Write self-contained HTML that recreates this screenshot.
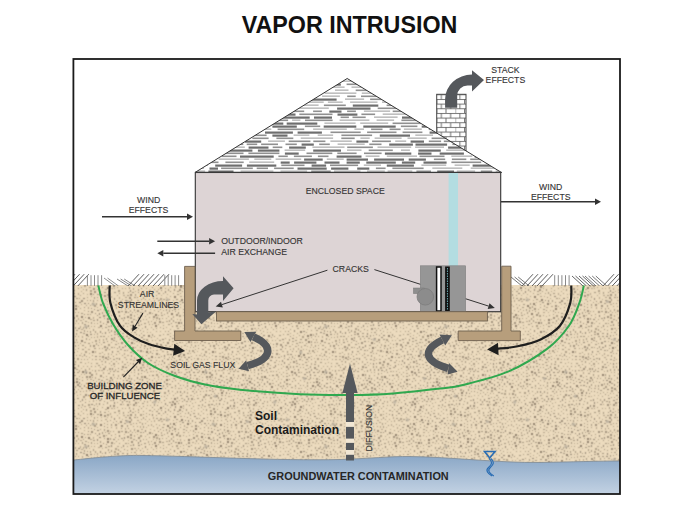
<!DOCTYPE html>
<html><head><meta charset="utf-8"><style>
html,body{margin:0;padding:0;background:#fff;width:700px;height:525px;overflow:hidden}
svg{display:block}

</style></head><body>
<div id="w"><svg width="700" height="525" viewBox="0 0 700 525">
<defs><pattern id="soil" patternUnits="userSpaceOnUse" width="120" height="120"><rect width="120" height="120" fill="#ecdbbe"/><path d="M41 19h1v1h-1zM4 11h1v1h-1zM30 11h2v1h-2zM80 80h2v1h-2zM71 104h1v2h-1zM81 24h1v1h-1zM36 77h2v2h-2zM19 119h2v1h-2zM74 102h2v1h-2zM34 60h1v2h-1zM2 59h1v1h-1zM88 109h2v1h-2zM81 51h1v1h-1zM13 0h2v1h-2zM59 61h2v1h-2zM61 106h1v2h-1zM26 67h1v1h-1zM97 67h1v1h-1zM63 45h1v2h-1zM79 115h2v1h-2zM61 116h1v2h-1zM2 1h1v2h-1zM68 19h2v1h-2zM111 56h1v2h-1zM60 79h1v2h-1zM66 67h2v1h-2zM71 3h1v2h-1zM107 57h1v1h-1zM70 58h1v1h-1zM14 117h1v2h-1zM89 41h1v1h-1zM102 88h1v1h-1zM10 77h2v2h-2zM33 110h1v1h-1zM76 31h1v2h-1zM31 64h1v2h-1zM116 67h1v2h-1zM13 48h1v2h-1zM62 33h1v1h-1zM95 119h2v1h-2zM96 43h1v2h-1zM70 70h1v1h-1zM26 48h1v1h-1zM108 104h2v2h-2zM19 19h2v1h-2zM10 70h1v2h-1zM49 33h1v1h-1zM46 87h1v1h-1zM114 28h2v1h-2zM76 18h2v2h-2zM114 91h2v2h-2zM10 44h1v1h-1zM5 48h1v1h-1zM7 32h1v1h-1zM118 35h1v1h-1zM110 40h2v1h-2zM20 54h2v2h-2zM33 79h1v1h-1zM86 30h1v2h-1zM103 12h1v2h-1zM99 99h1v2h-1zM5 26h2v2h-2zM84 70h1v1h-1zM85 39h1v1h-1zM50 93h1v1h-1zM55 115h1v1h-1zM38 16h1v2h-1zM104 114h1v1h-1zM64 56h1v1h-1zM16 45h1v1h-1zM64 65h1v2h-1zM93 40h1v2h-1zM109 8h2v2h-2zM71 66h2v1h-2zM73 18h1v1h-1zM78 83h1v1h-1zM90 19h2v1h-2zM20 7h2v2h-2zM13 33h1v1h-1zM67 89h1v1h-1zM116 21h1v1h-1zM5 17h1v2h-1zM89 8h1v2h-1zM97 46h1v1h-1zM26 26h1v1h-1zM44 32h2v2h-2zM108 36h2v1h-2zM3 55h2v1h-2zM68 72h1v1h-1zM98 10h2v1h-2zM118 50h2v2h-2zM58 16h2v1h-2zM24 33h2v2h-2zM35 25h1v1h-1zM64 80h1v1h-1zM114 83h1v1h-1zM49 106h2v1h-2zM100 25h2v1h-2zM21 16h2v2h-2zM41 61h2v1h-2zM67 106h1v1h-1zM63 88h1v1h-1zM56 85h2v2h-2zM17 60h2v1h-2zM21 69h2v1h-2zM47 54h1v1h-1zM46 81h2v1h-2zM62 96h2v2h-2zM40 91h1v1h-1zM70 113h1v1h-1zM51 38h1v1h-1zM24 105h2v2h-2zM80 86h1v2h-1zM23 111h1v1h-1zM72 82h2v1h-2zM63 72h2v1h-2zM89 117h1v1h-1zM119 113h1v1h-1zM83 87h1v2h-1zM60 86h1v1h-1zM42 111h2v1h-2zM20 75h2v2h-2zM99 116h2v1h-2zM66 109h1v1h-1zM118 63h1v1h-1zM3 44h1v1h-1zM118 15h1v2h-1zM30 92h1v1h-1zM7 115h2v1h-2zM30 103h1v1h-1zM95 17h1v2h-1zM33 30h2v2h-2zM25 76h1v1h-1zM74 39h1v1h-1zM89 47h2v1h-2zM119 57h2v2h-2zM111 48h2v1h-2zM39 32h2v1h-2zM53 76h1v2h-1zM46 13h2v1h-2zM41 55h1v1h-1zM99 119h2v1h-2zM117 86h2v1h-2zM73 36h1v1h-1zM77 111h1v1h-1zM78 78h1v2h-1zM53 108h1v2h-1zM88 67h1v2h-1zM23 7h2v1h-2zM0 39h1v2h-1zM117 38h1v1h-1zM20 66h1v2h-1zM105 59h2v1h-2zM30 45h1v1h-1zM57 79h1v1h-1zM28 113h1v1h-1zM75 109h1v1h-1zM65 27h1v1h-1zM39 1h1v1h-1zM16 119h1v1h-1zM88 44h2v2h-2zM108 51h1v1h-1zM91 86h1v1h-1zM83 36h2v2h-2zM26 99h2v2h-2zM30 69h1v1h-1zM114 35h1v1h-1zM83 31h1v1h-1zM27 92h1v1h-1zM79 10h1v2h-1zM58 28h2v1h-2zM94 65h2v2h-2zM17 110h2v1h-2zM19 62h2v1h-2zM39 114h1v1h-1zM4 117h2v1h-2zM80 34h1v1h-1zM36 110h2v1h-2zM110 53h1v2h-1zM26 18h2v1h-2zM27 41h1v2h-1zM108 113h1v2h-1zM4 74h1v1h-1zM62 17h2v1h-2zM8 5h1v1h-1zM84 14h1v1h-1zM40 58h2v2h-2zM105 109h2v2h-2zM91 56h1v1h-1zM82 96h1v2h-1zM53 60h1v1h-1zM41 42h1v1h-1zM87 54h1v1h-1zM37 28h1v2h-1zM74 118h1v1h-1zM38 19h1v1h-1zM76 99h1v2h-1zM59 75h2v2h-2zM118 28h1v2h-1zM81 8h1v1h-1zM88 2h1v1h-1zM93 77h1v2h-1zM34 18h1v1h-1zM30 37h1v2h-1zM114 17h1v1h-1zM33 57h1v2h-1zM108 96h1v1h-1zM39 12h1v1h-1zM5 68h1v2h-1zM8 80h1v1h-1zM85 111h2v2h-2zM95 100h2v2h-2zM22 88h1v1h-1zM99 113h2v1h-2zM56 97h1v1h-1zM28 81h1v2h-1zM96 13h1v2h-1zM10 64h2v1h-2zM97 93h1v2h-1zM101 10h2v1h-2zM43 46h1v1h-1zM38 9h1v1h-1zM68 1h1v1h-1zM89 88h1v1h-1zM60 56h2v1h-2zM32 23h2v1h-2zM92 10h1v1h-1zM67 32h1v2h-1zM100 29h2v2h-2zM40 22h1v2h-1zM58 108h1v2h-1zM77 118h2v2h-2zM101 104h1v1h-1zM36 14h2v2h-2zM95 111h1v2h-1zM113 3h2v2h-2zM76 75h2v2h-2zM93 23h2v1h-2zM107 54h2v2h-2zM62 0h1v1h-1zM55 33h1v1h-1zM94 83h1v1h-1zM88 82h1v1h-1zM75 42h1v1h-1zM70 22h1v1h-1zM14 75h1v2h-1zM11 30h2v2h-2zM94 94h1v1h-1zM97 96h1v2h-1zM4 113h1v2h-1zM52 14h1v2h-1zM66 76h1v1h-1zM64 94h1v1h-1zM70 35h2v1h-2zM107 10h1v1h-1zM27 61h1v1h-1zM55 28h1v1h-1zM14 88h2v1h-2zM61 38h2v1h-2zM90 37h2v2h-2zM103 99h1v2h-1zM81 64h1v1h-1zM35 100h1v1h-1zM41 36h1v1h-1zM15 72h1v1h-1zM46 57h1v1h-1zM29 33h1v2h-1zM101 57h1v1h-1zM53 95h1v1h-1zM11 12h1v1h-1zM98 87h2v1h-2zM5 57h2v1h-2zM15 51h1v1h-1zM78 53h1v2h-1zM83 6h1v1h-1zM33 107h1v1h-1zM109 20h2v2h-2zM115 9h1v2h-1zM22 4h2v2h-2zM101 1h2v1h-2zM62 4h2v1h-2zM117 55h1v1h-1zM115 88h2v2h-2zM21 22h1v1h-1zM56 62h1v1h-1zM104 21h1v2h-1zM111 36h1v1h-1zM31 61h1v1h-1zM73 94h1v2h-1zM8 101h1v1h-1zM81 14h1v1h-1zM81 113h1v1h-1zM37 98h1v1h-1zM105 49h2v1h-2zM84 46h2v1h-2zM9 25h1v1h-1zM93 36h1v1h-1zM17 74h1v1h-1zM115 25h1v2h-1zM90 50h2v2h-2zM96 40h1v1h-1zM43 6h1v1h-1zM48 4h2v1h-2zM21 104h1v2h-1zM77 35h1v1h-1zM75 83h1v1h-1zM17 105h1v1h-1zM16 39h2v1h-2zM10 85h2v1h-2zM59 40h1v1h-1zM71 51h1v1h-1zM36 80h1v1h-1zM46 23h2v2h-2zM41 72h1v2h-1zM37 67h1v2h-1zM87 74h2v1h-2zM81 89h2v1h-2zM4 23h1v2h-1zM16 30h1v1h-1zM38 42h1v1h-1zM49 67h2v2h-2zM90 79h2v1h-2zM73 99h1v1h-1zM83 49h1v1h-1zM72 110h2v2h-2zM55 106h2v1h-2z" fill="#6d5c4a" fill-opacity="0.55"/><path d="M9 105h2v1h-2zM74 7h2v2h-2zM105 72h1v1h-1zM73 74h1v1h-1zM5 71h2v2h-2zM53 18h2v1h-2zM46 38h1v1h-1zM89 99h1v1h-1zM65 53h1v1h-1zM85 9h1v2h-1zM36 91h1v1h-1zM63 7h1v1h-1zM117 111h2v1h-2zM57 51h2v1h-2zM104 55h2v2h-2zM29 19h1v1h-1zM106 75h1v1h-1zM0 18h1v1h-1zM78 72h1v1h-1zM26 56h1v1h-1zM46 78h1v1h-1zM78 48h1v1h-1zM18 13h1v2h-1zM33 66h1v1h-1zM45 98h1v1h-1zM81 28h2v1h-2zM103 30h1v2h-1zM101 35h2v1h-2zM103 119h1v2h-1zM46 10h1v1h-1zM113 22h1v1h-1zM95 10h1v2h-1zM84 119h1v1h-1zM111 24h1v2h-1zM3 32h1v1h-1zM106 16h1v1h-1zM105 117h2v2h-2zM99 102h1v1h-1zM113 71h1v1h-1zM56 41h2v1h-2zM64 31h1v2h-1zM118 71h2v2h-2zM50 56h1v1h-1zM54 9h1v1h-1zM100 15h2v2h-2zM91 82h1v2h-1zM113 62h1v1h-1zM43 53h1v1h-1zM11 92h1v1h-1zM49 42h2v1h-2zM10 33h1v1h-1zM108 116h1v2h-1zM34 2h2v1h-2zM43 70h1v1h-1zM79 16h1v1h-1zM14 20h1v1h-1zM25 119h1v1h-1zM26 37h1v1h-1zM34 44h1v2h-1zM2 93h2v1h-2zM64 39h1v2h-1zM43 25h1v2h-1zM51 44h2v2h-2zM1 9h2v1h-2zM111 64h1v2h-1zM0 33h1v1h-1zM70 41h1v1h-1zM27 45h1v1h-1zM60 35h2v1h-2zM50 2h1v1h-1zM10 74h2v2h-2zM92 63h1v1h-1zM93 89h1v2h-1zM105 87h2v1h-2zM10 3h1v1h-1zM80 2h2v1h-2zM9 108h1v1h-1zM9 61h2v2h-2zM98 5h2v1h-2zM18 42h1v1h-1zM10 119h2v1h-2zM34 49h1v1h-1zM11 18h1v2h-1zM46 16h2v1h-2zM113 14h1v2h-1zM87 57h1v1h-1zM15 107h1v1h-1zM118 25h1v2h-1zM96 35h2v2h-2zM13 6h1v2h-1zM81 119h1v1h-1zM55 65h1v1h-1zM78 96h1v1h-1zM116 118h2v1h-2zM60 53h1v1h-1zM32 94h1v2h-1zM71 85h1v1h-1zM70 28h2v1h-2zM97 57h1v1h-1zM22 43h2v1h-2zM73 46h1v1h-1zM57 31h1v2h-1zM29 72h2v2h-2zM14 12h1v1h-1zM35 40h2v1h-2zM60 67h1v1h-1zM3 52h1v2h-1zM94 108h2v1h-2zM63 25h1v1h-1zM29 59h1v1h-1zM13 79h2v1h-2zM27 3h2v2h-2zM53 6h1v2h-1zM21 13h1v1h-1zM71 97h1v1h-1zM115 77h1v1h-1zM42 78h1v1h-1zM1 102h2v2h-2zM98 19h2v1h-2zM8 83h1v1h-1zM37 37h1v1h-1zM94 33h1v1h-1zM36 113h2v2h-2zM41 8h1v1h-1zM117 47h1v1h-1zM29 15h1v1h-1zM76 90h2v1h-2zM76 93h1v2h-1zM104 41h1v1h-1zM23 79h1v1h-1zM50 89h1v1h-1zM39 95h2v1h-2zM53 53h1v1h-1zM47 94h2v1h-2zM44 36h1v1h-1zM96 103h1v2h-1zM11 115h1v2h-1zM76 58h2v1h-2zM83 53h1v1h-1zM36 103h2v2h-2zM92 119h1v1h-1zM32 20h1v1h-1zM115 104h2v1h-2zM64 117h2v1h-2zM30 40h1v1h-1zM23 51h1v1h-1zM114 48h1v1h-1zM14 98h2v1h-2zM102 47h1v1h-1zM95 6h1v1h-1zM39 81h2v2h-2zM80 55h1v1h-1zM114 6h1v1h-1zM13 66h1v1h-1zM38 75h1v1h-1zM60 20h1v1h-1zM82 105h2v1h-2zM1 78h2v1h-2zM104 78h1v1h-1zM15 42h2v2h-2zM33 37h2v1h-2zM10 112h2v1h-2zM30 107h1v2h-1zM103 96h2v1h-2zM61 12h1v1h-1zM91 97h1v1h-1zM36 21h1v1h-1zM63 75h1v1h-1zM27 89h1v1h-1zM64 21h1v1h-1zM44 74h1v1h-1zM111 107h2v1h-2zM21 59h1v1h-1zM89 30h2v1h-2zM90 105h1v2h-1zM66 44h1v1h-1zM108 29h1v2h-1zM89 12h2v2h-2zM100 51h1v2h-1zM52 66h1v2h-1zM108 73h2v1h-2zM65 2h2v1h-2zM78 45h2v1h-2zM53 80h1v2h-1zM74 33h1v1h-1zM94 51h2v2h-2zM92 28h1v2h-1zM104 52h2v1h-2zM92 102h1v1h-1zM7 10h1v2h-1zM26 9h1v2h-1zM77 12h2v1h-2zM23 99h2v1h-2zM26 115h1v1h-1zM100 81h1v2h-1zM78 5h1v2h-1zM12 110h1v2h-1zM60 99h2v1h-2zM36 55h1v1h-1zM70 6h1v2h-1zM45 105h2v1h-2zM85 81h2v1h-2zM47 111h1v2h-1zM71 90h1v1h-1zM1 87h1v1h-1zM11 27h2v2h-2zM72 31h2v1h-2zM95 91h1v2h-1zM49 99h1v2h-1zM100 96h2v1h-2zM106 19h2v1h-2zM48 49h1v2h-1zM36 88h1v1h-1zM36 106h1v1h-1zM62 102h1v1h-1zM7 86h1v1h-1zM58 69h1v1h-1zM29 50h2v1h-2zM66 41h2v1h-2zM24 11h1v1h-1zM75 72h1v1h-1zM54 12h2v2h-2zM23 57h1v2h-1zM97 83h1v1h-1zM102 4h1v1h-1zM9 57h2v2h-2zM7 23h1v2h-1zM52 31h1v1h-1zM73 107h1v1h-1zM56 103h2v1h-2zM56 0h1v2h-1zM23 66h1v2h-1zM22 26h1v1h-1zM66 103h1v1h-1zM52 116h1v2h-1zM104 106h2v2h-2zM118 89h1v2h-1zM13 44h2v2h-2zM14 15h1v1h-1zM69 75h1v1h-1zM50 6h1v2h-1zM107 42h1v2h-1zM6 41h2v1h-2zM4 110h2v1h-2zM30 5h1v1h-1zM7 76h2v2h-2zM74 50h1v1h-1zM20 110h2v2h-2zM66 49h1v2h-1zM94 97h1v1h-1zM43 85h1v1h-1zM97 60h1v1h-1zM74 15h2v1h-2zM57 88h2v1h-2zM63 48h1v1h-1zM117 42h1v1h-1zM116 1h1v1h-1zM49 59h1v1h-1zM67 29h1v1h-1zM62 51h1v1h-1zM39 65h1v1h-1zM75 1h1v2h-1zM22 63h1v2h-1zM111 82h2v2h-2zM115 74h1v1h-1zM56 6h2v1h-2zM86 49h1v2h-1zM111 31h1v1h-1zM45 48h1v1h-1zM15 54h1v2h-1zM49 24h2v1h-2zM85 3h1v1h-1zM38 60h2v1h-2zM86 16h2v2h-2zM76 115h1v1h-1zM86 65h1v1h-1zM97 49h1v1h-1zM99 108h1v1h-1zM71 116h1v1h-1zM84 90h1v2h-1zM23 37h1v1h-1zM55 25h1v2h-1zM31 87h1v1h-1zM82 44h1v2h-1zM70 54h1v2h-1zM106 26h1v1h-1zM56 59h2v1h-2zM10 95h1v2h-1zM100 69h1v1h-1zM117 11h2v1h-2zM18 37h1v1h-1zM17 70h2v2h-2zM18 88h1v1h-1zM7 65h1v2h-1zM102 72h1v2h-1zM54 68h2v2h-2zM82 17h1v1h-1zM67 113h2v1h-2zM94 57h1v2h-1zM29 23h2v2h-2zM14 28h2v2h-2zM72 60h1v2h-1zM113 11h2v1h-2zM117 93h2v2h-2zM14 9h1v2h-1zM78 66h1v1h-1zM59 49h2v2h-2zM81 73h2v1h-2zM30 111h1v2h-1zM43 94h1v1h-1zM7 90h1v1h-1zM113 100h2v1h-2zM73 70h1v2h-1zM27 6h1v1h-1zM25 30h1v2h-1zM10 9h1v2h-1zM92 17h1v1h-1zM68 82h2v2h-2zM118 3h1v1h-1zM51 78h1v2h-1zM111 1h1v1h-1zM110 71h1v1h-1zM1 71h2v1h-2zM19 115h1v1h-1zM82 116h1v1h-1zM48 84h2v1h-2zM30 29h1v1h-1zM97 54h2v1h-2zM101 20h2v1h-2zM105 38h1v1h-1zM111 114h1v1h-1zM27 74h1v1h-1zM110 17h2v2h-2zM94 45h1v1h-1zM2 6h2v2h-2zM90 22h1v1h-1zM52 101h2v1h-2zM5 83h2v1h-2zM91 34h1v1h-1zM0 30h2v1h-2zM93 48h2v2h-2zM82 109h2v1h-2zM45 91h1v1h-1zM28 118h2v1h-2zM118 96h2v1h-2zM84 102h2v1h-2zM14 57h2v1h-2zM66 84h1v1h-1zM33 7h2v1h-2zM35 117h1v1h-1zM63 109h1v1h-1zM55 82h2v1h-2zM118 79h1v1h-1zM105 1h1v2h-1zM13 63h1v1h-1zM52 104h1v1h-1zM33 11h1v1h-1zM87 6h1v1h-1zM90 74h1v1h-1zM68 8h1v1h-1zM28 101h1v1h-1zM51 119h1v2h-1zM23 1h2v2h-2zM18 99h2v2h-2zM66 12h2v1h-2zM57 37h1v2h-1zM70 107h1v1h-1zM25 59h1v1h-1zM113 119h2v2h-2zM114 97h1v2h-1zM12 52h2v1h-2zM9 47h1v2h-1zM20 72h2v1h-2zM36 51h2v1h-2zM96 21h1v1h-1zM43 12h1v1h-1zM19 102h1v1h-1zM4 63h2v1h-2zM86 98h1v2h-1zM77 38h2v1h-2zM89 113h1v1h-1zM19 46h1v1h-1zM77 24h2v2h-2zM58 72h1v2h-1zM71 48h1v1h-1zM105 6h1v2h-1zM20 39h1v2h-1zM101 60h1v1h-1zM91 14h2v2h-2zM50 63h1v2h-1zM0 109h2v1h-2zM51 27h2v1h-2zM119 83h1v1h-1zM8 98h2v1h-2zM9 15h1v2h-1zM61 28h1v1h-1zM42 67h2v1h-2zM71 101h1v2h-1zM91 3h1v1h-1zM79 58h1v1h-1zM98 33h1v1h-1zM26 53h1v1h-1zM108 13h2v1h-2zM32 84h1v1h-1zM114 107h1v1h-1zM11 59h1v2h-1zM110 60h1v1h-1zM48 8h1v2h-1zM47 35h1v1h-1zM5 14h1v2h-1zM102 112h1v1h-1zM32 100h1v1h-1zM113 45h2v2h-2zM0 98h1v2h-1zM11 88h2v2h-2zM14 92h2v1h-2zM58 43h1v1h-1zM109 26h1v2h-1zM84 84h2v1h-2zM46 69h1v2h-1zM3 28h2v1h-2zM7 55h2v1h-2zM85 77h1v1h-1zM18 49h1v2h-1zM109 109h1v1h-1zM86 27h2v1h-2zM39 100h2v1h-2zM17 66h1v1h-1zM2 115h1v1h-1zM75 87h1v2h-1zM32 73h1v1h-1zM87 60h1v1h-1zM95 29h1v1h-1zM50 47h1v1h-1zM68 52h1v2h-1zM43 64h2v1h-2zM1 24h2v2h-2zM66 92h1v1h-1zM11 37h1v1h-1zM38 84h1v1h-1zM92 115h1v1h-1zM43 102h1v1h-1zM40 104h2v2h-2zM7 44h2v2h-2zM107 70h2v2h-2zM53 1h2v2h-2zM11 23h2v1h-2zM77 102h1v1h-1zM119 53h1v1h-1zM18 77h2v2h-2zM46 6h2v2h-2zM115 64h2v2h-2zM11 99h1v1h-1zM29 77h1v1h-1zM65 18h2v1h-2zM41 75h2v1h-2zM80 68h1v1h-1zM103 17h1v1h-1zM111 90h1v2h-1zM38 4h1v1h-1zM2 41h1v2h-1zM78 105h1v1h-1zM119 106h1v2h-1zM88 103h2v1h-2zM107 119h2v1h-2zM107 64h1v1h-1zM32 33h2v2h-2zM40 26h2v1h-2zM47 72h1v2h-1zM69 110h1v2h-1zM65 99h2v2h-2zM90 65h1v1h-1zM44 21h1v2h-1zM14 103h1v1h-1zM43 16h1v1h-1zM94 86h1v1h-1zM34 70h1v1h-1zM23 91h1v1h-1zM78 29h1v1h-1zM45 108h1v1h-1zM63 69h2v1h-2zM35 34h1v2h-1zM60 64h1v1h-1zM111 102h1v1h-1zM27 108h1v2h-1zM73 22h2v1h-2zM103 8h2v2h-2zM38 117h2v1h-2zM2 48h1v1h-1zM16 6h1v2h-1zM36 58h2v1h-2zM91 71h2v2h-2zM47 102h2v2h-2zM63 85h1v1h-1zM111 98h2v2h-2zM108 86h2v1h-2zM0 61h2v2h-2zM104 63h1v1h-1zM11 81h2v2h-2zM73 53h2v1h-2zM55 100h2v1h-2zM49 80h1v2h-1zM34 82h2v2h-2zM25 102h1v1h-1zM1 65h2v2h-2zM81 47h1v1h-1zM104 69h1v2h-1zM111 5h1v1h-1zM53 35h1v1h-1zM42 82h2v1h-2zM41 116h1v1h-1zM90 91h1v2h-1zM33 89h1v1h-1zM17 22h2v1h-2zM114 52h2v1h-2zM38 49h1v1h-1zM58 12h2v1h-2zM103 75h2v2h-2zM96 3h2v1h-2zM56 74h2v2h-2zM76 80h1v2h-1zM52 41h2v2h-2zM83 79h1v1h-1zM2 36h1v1h-1zM50 109h1v1h-1zM64 105h2v1h-2zM66 5h2v1h-2zM10 54h2v2h-2zM19 2h2v2h-2zM49 70h1v2h-1zM71 9h1v2h-1zM98 37h1v2h-1zM47 114h2v1h-2zM85 34h2v2h-2zM36 64h1v1h-1zM71 79h1v1h-1zM58 105h1v1h-1zM73 77h2v2h-2zM14 69h1v2h-1zM16 90h1v1h-1zM102 108h1v1h-1zM40 87h1v1h-1zM108 89h1v2h-1zM70 63h1v1h-1zM109 3h1v1h-1zM111 67h1v1h-1zM45 28h1v1h-1zM114 94h2v1h-2zM112 19h1v2h-1zM24 83h2v1h-2zM71 38h2v2h-2zM67 25h1v2h-1zM92 31h2v1h-2zM43 59h2v1h-2zM117 32h1v1h-1zM39 39h1v2h-1zM21 33h2v1h-2zM86 116h1v1h-1zM48 76h1v1h-1zM93 80h2v1h-2zM116 81h1v1h-1zM8 35h1v1h-1zM65 9h2v1h-2zM96 63h1v2h-1zM59 95h1v1h-1zM118 103h1v1h-1zM57 54h2v1h-2zM86 87h1v2h-1zM57 93h1v1h-1zM38 24h1v2h-1zM16 35h2v1h-2zM103 44h1v1h-1zM19 28h1v1h-1zM93 60h1v2h-1zM2 96h2v1h-2zM9 41h1v2h-1zM16 101h2v1h-2zM56 3h2v1h-2zM36 11h1v1h-1zM5 60h2v1h-2zM76 9h2v1h-2zM72 43h1v1h-1zM70 17h1v2h-1zM31 81h1v1h-1zM4 98h1v1h-1zM102 93h1v1h-1zM75 105h1v2h-1zM75 65h2v2h-2zM75 26h1v2h-1zM98 27h1v1h-1zM44 118h1v1h-1zM89 16h2v2h-2zM13 113h1v1h-1zM59 102h2v1h-2zM82 82h1v2h-1zM41 14h1v1h-1zM79 19h1v1h-1zM32 51h1v1h-1zM93 105h2v2h-2zM49 117h1v1h-1zM102 116h2v2h-2zM60 110h2v1h-2zM106 98h1v2h-1zM25 63h1v1h-1zM110 78h1v2h-1zM88 96h1v1h-1zM26 79h1v1h-1zM14 37h1v1h-1zM81 60h2v2h-2zM12 72h1v1h-1zM74 4h2v1h-2zM32 42h1v1h-1zM33 76h2v2h-2zM111 28h1v1h-1zM21 93h1v1h-1zM4 4h2v1h-2zM83 93h2v1h-2zM80 103h1v1h-1zM67 22h1v2h-1zM87 119h1v1h-1zM60 7h1v1h-1zM23 54h1v1h-1zM13 95h1v1h-1z" fill="#6d5c4a" fill-opacity="0.70"/><path d="M79 26h2v1h-2zM99 40h2v1h-2zM67 63h2v2h-2zM43 88h1v1h-1zM7 93h1v2h-1zM16 94h1v1h-1zM90 53h2v2h-2zM29 84h1v1h-1zM58 115h2v2h-2zM50 51h1v1h-1zM46 60h1v1h-1zM88 77h2v2h-2zM60 25h1v1h-1zM106 84h1v1h-1zM100 91h1v2h-1zM11 102h2v2h-2zM16 3h1v1h-1zM103 83h1v1h-1zM67 95h2v2h-2zM97 75h1v1h-1zM114 58h1v2h-1zM35 5h1v2h-1zM88 35h2v1h-2zM32 113h1v1h-1zM28 95h2v2h-2zM20 90h1v1h-1zM34 96h1v1h-1zM68 117h2v1h-2zM65 60h1v1h-1zM13 84h1v2h-1zM84 63h2v1h-2zM55 20h1v1h-1zM58 23h1v1h-1zM33 104h1v1h-1zM84 114h1v2h-1zM5 105h1v2h-1zM84 67h1v1h-1zM83 58h2v1h-2zM86 12h1v2h-1zM66 36h2v1h-2zM58 9h1v2h-1zM63 114h2v2h-2zM3 20h1v1h-1zM32 47h1v1h-1zM111 75h1v1h-1zM100 54h2v2h-2zM6 119h1v2h-1zM51 83h1v1h-1zM82 20h1v1h-1zM72 25h2v2h-2zM114 31h1v1h-1zM54 90h1v2h-1zM75 62h1v1h-1zM119 118h2v2h-2zM105 92h1v2h-1zM16 80h1v1h-1zM1 68h1v1h-1zM7 2h1v1h-1zM54 118h1v1h-1zM4 89h1v1h-1zM24 23h1v2h-1zM4 39h1v2h-1zM107 47h2v2h-2zM98 105h1v1h-1zM90 60h1v1h-1zM24 41h1v1h-1zM3 80h1v1h-1zM60 91h2v2h-2zM101 32h2v2h-2zM50 96h1v1h-1zM53 63h2v2h-2zM22 29h1v1h-1zM60 113h1v2h-1zM47 65h2v2h-2zM4 101h2v1h-2zM8 52h1v1h-1zM51 73h2v2h-2zM18 82h1v2h-1zM118 8h1v1h-1zM116 61h1v1h-1zM81 100h2v2h-2zM78 108h1v1h-1zM23 72h1v1h-1zM85 107h1v1h-1zM54 49h1v2h-1zM79 62h2v1h-2zM97 79h1v2h-1zM107 22h1v2h-1zM6 96h2v1h-2zM24 16h2v2h-2zM111 85h1v2h-1zM74 56h2v1h-2zM5 7h2v1h-2zM18 52h1v1h-1zM8 38h2v1h-2zM91 68h1v1h-1zM95 116h2v1h-2zM91 6h1v1h-1zM88 85h1v2h-1zM113 39h1v2h-1zM112 111h1v2h-1zM0 44h2v1h-2zM80 41h1v1h-1zM47 26h1v1h-1zM74 29h1v1h-1zM21 84h1v1h-1zM101 38h1v2h-1zM59 4h1v1h-1zM18 32h2v1h-2zM31 116h2v2h-2zM86 23h2v1h-2zM103 102h2v1h-2zM97 70h2v1h-2zM32 54h1v2h-1zM46 19h2v2h-2zM61 59h2v2h-2zM20 107h1v1h-1zM100 64h2v2h-2zM52 70h1v1h-1zM76 21h2v2h-2zM40 47h2v2h-2zM20 80h1v2h-1zM75 96h1v1h-1zM26 111h2v2h-2zM116 114h1v1h-1zM82 11h2v2h-2zM90 94h2v1h-2zM25 86h1v2h-1zM49 15h1v1h-1zM56 111h1v1h-1zM13 40h2v1h-2zM100 85h2v2h-2zM96 25h2v2h-2zM23 46h1v1h-1zM107 81h2v2h-2zM2 107h2v1h-2zM5 34h1v1h-1zM18 85h2v1h-2zM32 15h2v1h-2zM75 68h2v2h-2zM16 113h1v1h-1zM94 69h1v1h-1zM78 88h2v1h-2zM25 70h1v2h-1zM42 28h1v1h-1zM86 94h2v2h-2zM52 111h1v1h-1zM37 45h1v1h-1zM68 38h1v2h-1zM68 79h2v2h-2zM9 21h2v2h-2zM38 53h2v1h-2zM47 45h1v1h-1zM45 51h1v2h-1zM63 91h2v1h-2zM54 56h2v2h-2zM17 17h1v2h-1zM30 0h2v1h-2zM51 11h2v2h-2zM107 78h2v2h-2zM21 48h1v1h-1zM84 74h1v1h-1zM80 92h2v1h-2zM56 14h1v2h-1zM27 21h1v2h-1zM17 26h1v1h-1zM92 111h2v2h-2zM111 95h1v1h-1zM42 99h2v1h-2zM82 39h1v2h-1zM44 115h1v2h-1zM7 29h2v1h-2zM64 14h2v1h-2zM49 19h1v1h-1zM88 71h1v1h-1zM48 30h1v2h-1zM109 92h1v1h-1zM22 19h1v2h-1zM59 119h2v1h-2zM38 71h1v1h-1zM47 119h2v1h-2zM90 26h1v2h-1zM106 32h1v2h-1zM44 2h1v2h-1zM70 14h1v2h-1zM42 0h1v2h-1zM91 44h2v1h-2zM99 43h1v2h-1zM107 101h1v1h-1zM2 14h2v2h-2zM70 94h2v2h-2zM68 60h1v2h-1zM104 66h1v1h-1zM31 26h2v2h-2zM3 85h1v2h-1zM12 107h2v2h-2zM116 101h1v1h-1zM22 116h1v1h-1zM29 8h2v1h-2zM29 54h1v1h-1zM19 95h1v1h-1zM69 45h1v1h-1zM44 40h1v1h-1zM19 24h1v2h-1zM28 65h1v1h-1zM40 109h2v1h-2zM52 21h1v1h-1zM93 54h1v1h-1zM68 101h2v2h-2zM109 33h1v1h-1zM41 50h1v1h-1zM58 82h2v2h-2zM27 12h1v1h-1zM73 12h2v1h-2zM87 19h1v1h-1zM85 42h1v1h-1zM119 75h1v2h-1zM105 35h1v1h-1zM60 31h1v2h-1zM110 45h1v2h-1zM79 22h1v2h-1zM84 25h1v2h-1zM99 73h1v2h-1zM24 108h1v1h-1zM61 82h1v2h-1zM7 110h1v1h-1zM67 57h1v1h-1zM4 77h1v2h-1zM35 85h2v2h-2zM74 112h1v1h-1zM8 72h1v1h-1zM8 18h2v1h-2zM62 41h1v1h-1zM113 116h1v1h-1zM17 57h1v1h-1zM95 73h1v1h-1zM71 119h1v2h-1zM18 9h1v2h-1zM23 95h2v1h-2zM13 3h1v2h-1zM113 79h2v1h-2zM119 22h1v1h-1zM31 97h1v1h-1zM8 68h1v1h-1zM103 25h2v1h-2zM60 46h2v2h-2zM99 77h2v1h-2zM14 24h1v2h-1zM48 91h1v1h-1zM28 105h1v1h-1zM81 76h2v2h-2zM45 43h1v2h-1zM114 42h1v2h-1zM52 86h1v1h-1zM36 0h1v1h-1zM52 98h2v1h-2zM42 106h1v2h-1zM55 46h1v2h-1zM21 97h2v1h-2zM35 74h2v2h-2zM66 119h2v1h-2zM87 91h1v1h-1zM66 70h1v1h-1zM40 69h1v1h-1zM117 108h1v1h-1zM110 11h1v1h-1zM39 78h1v2h-1zM41 4h1v1h-1zM68 86h2v1h-2zM107 67h1v1h-1zM68 98h1v1h-1zM16 63h1v1h-1zM54 38h2v2h-2zM110 118h1v1h-1zM112 8h1v2h-1zM50 114h2v1h-2zM62 62h2v1h-2zM67 16h1v1h-1zM117 18h1v1h-1zM54 43h2v2h-2zM107 107h1v2h-1zM55 71h1v1h-1zM80 31h1v1h-1zM100 7h1v1h-1zM88 63h1v1h-1zM0 91h1v1h-1zM99 22h2v1h-2zM10 50h1v2h-1zM107 61h1v1h-1zM69 11h1v2h-1zM6 20h2v1h-2zM93 20h1v1h-1zM21 10h2v1h-2z" fill="#5d4e40" fill-opacity="0.85"/><circle cx="85.9" cy="11.9" r="1.7" fill="#9d958b" fill-opacity="0.55"/><circle cx="85.8" cy="86.6" r="1.7" fill="#9d958b" fill-opacity="0.55"/><circle cx="64.5" cy="18.6" r="1.7" fill="#9d958b" fill-opacity="0.55"/><circle cx="60.7" cy="112.4" r="1.7" fill="#9d958b" fill-opacity="0.55"/><circle cx="7.4" cy="61.6" r="1.7" fill="#9d958b" fill-opacity="0.55"/><circle cx="95.5" cy="36.3" r="1.7" fill="#9d958b" fill-opacity="0.55"/><circle cx="93.4" cy="64.3" r="1.7" fill="#9d958b" fill-opacity="0.55"/><circle cx="47.4" cy="59.9" r="1.7" fill="#9d958b" fill-opacity="0.55"/><circle cx="14.3" cy="99.6" r="1.7" fill="#9d958b" fill-opacity="0.55"/><circle cx="34.8" cy="42.0" r="1.7" fill="#9d958b" fill-opacity="0.55"/></pattern><pattern id="roof" patternUnits="userSpaceOnUse" x="193" y="77" width="310" height="96"><rect width="310" height="96" fill="#fff"/><rect x="-12.1" y="0.5" width="25.3" height="2.2" fill="#6e6e6e"/><rect x="17.8" y="0.5" width="32.2" height="2.2" fill="#6e6e6e"/><rect x="58.9" y="0.5" width="16.1" height="1.6" fill="#909090"/><rect x="83.5" y="0.5" width="15.2" height="1.6" fill="#909090"/><rect x="101.5" y="0.5" width="21.0" height="1.6" fill="#909090"/><rect x="126.0" y="0.5" width="31.2" height="1.6" fill="#909090"/><rect x="164.0" y="0.5" width="27.7" height="2.2" fill="#6e6e6e"/><rect x="199.8" y="0.5" width="14.9" height="1.6" fill="#909090"/><rect x="221.9" y="0.5" width="11.9" height="1.3" fill="#b0b0b0"/><rect x="238.0" y="0.5" width="23.2" height="2.2" fill="#6e6e6e"/><rect x="270.0" y="0.5" width="21.9" height="1.3" fill="#b0b0b0"/><rect x="297.1" y="0.5" width="11.0" height="1.6" fill="#909090"/><rect x="-2.7" y="3.5" width="11.6" height="2.2" fill="#6e6e6e"/><rect x="16.2" y="3.5" width="12.5" height="2.2" fill="#6e6e6e"/><rect x="32.8" y="3.5" width="22.3" height="1.6" fill="#909090"/><rect x="58.0" y="3.5" width="30.2" height="1.6" fill="#909090"/><rect x="92.7" y="3.5" width="27.7" height="2.2" fill="#6e6e6e"/><rect x="123.5" y="3.5" width="16.6" height="1.6" fill="#909090"/><rect x="148.3" y="3.5" width="33.4" height="1.3" fill="#b0b0b0"/><rect x="186.5" y="3.5" width="33.9" height="1.3" fill="#b0b0b0"/><rect x="226.9" y="3.5" width="29.3" height="1.3" fill="#b0b0b0"/><rect x="262.3" y="3.5" width="13.3" height="2.2" fill="#6e6e6e"/><rect x="279.5" y="3.5" width="10.0" height="2.2" fill="#6e6e6e"/><rect x="293.8" y="3.5" width="11.9" height="1.3" fill="#b0b0b0"/><rect x="-1.6" y="6.5" width="19.1" height="1.3" fill="#b0b0b0"/><rect x="25.0" y="6.5" width="22.0" height="1.6" fill="#909090"/><rect x="52.3" y="6.5" width="32.8" height="2.2" fill="#6e6e6e"/><rect x="87.8" y="6.5" width="9.5" height="2.2" fill="#6e6e6e"/><rect x="105.2" y="6.5" width="24.5" height="1.6" fill="#909090"/><rect x="132.3" y="6.5" width="15.5" height="2.2" fill="#6e6e6e"/><rect x="153.6" y="6.5" width="30.5" height="1.6" fill="#909090"/><rect x="191.6" y="6.5" width="14.7" height="1.6" fill="#909090"/><rect x="214.2" y="6.5" width="19.6" height="1.6" fill="#909090"/><rect x="241.9" y="6.5" width="25.4" height="1.3" fill="#b0b0b0"/><rect x="275.4" y="6.5" width="17.9" height="2.2" fill="#6e6e6e"/><rect x="301.5" y="6.5" width="32.9" height="2.2" fill="#6e6e6e"/><rect x="-14.1" y="9.5" width="28.2" height="2.2" fill="#6e6e6e"/><rect x="22.9" y="9.5" width="21.1" height="1.3" fill="#b0b0b0"/><rect x="51.3" y="9.5" width="26.9" height="1.6" fill="#909090"/><rect x="86.8" y="9.5" width="21.2" height="1.3" fill="#b0b0b0"/><rect x="111.3" y="9.5" width="16.4" height="1.6" fill="#909090"/><rect x="136.2" y="9.5" width="15.4" height="1.3" fill="#b0b0b0"/><rect x="158.5" y="9.5" width="24.8" height="1.3" fill="#b0b0b0"/><rect x="187.0" y="9.5" width="24.4" height="2.2" fill="#6e6e6e"/><rect x="216.5" y="9.5" width="23.0" height="2.2" fill="#6e6e6e"/><rect x="244.0" y="9.5" width="19.7" height="1.3" fill="#b0b0b0"/><rect x="268.4" y="9.5" width="19.1" height="1.3" fill="#b0b0b0"/><rect x="292.1" y="9.5" width="12.2" height="1.3" fill="#b0b0b0"/><rect x="-15.4" y="12.5" width="16.3" height="2.2" fill="#6e6e6e"/><rect x="9.4" y="12.5" width="14.1" height="1.6" fill="#909090"/><rect x="26.5" y="12.5" width="17.1" height="2.2" fill="#6e6e6e"/><rect x="47.8" y="12.5" width="13.6" height="1.6" fill="#909090"/><rect x="64.6" y="12.5" width="18.7" height="1.6" fill="#909090"/><rect x="87.7" y="12.5" width="12.4" height="2.2" fill="#6e6e6e"/><rect x="104.8" y="12.5" width="15.4" height="1.6" fill="#909090"/><rect x="124.9" y="12.5" width="10.1" height="1.3" fill="#b0b0b0"/><rect x="142.0" y="12.5" width="13.5" height="1.3" fill="#b0b0b0"/><rect x="162.7" y="12.5" width="29.4" height="1.6" fill="#909090"/><rect x="198.6" y="12.5" width="28.4" height="1.3" fill="#b0b0b0"/><rect x="233.1" y="12.5" width="30.4" height="1.6" fill="#909090"/><rect x="266.6" y="12.5" width="33.2" height="1.3" fill="#b0b0b0"/><rect x="305.2" y="12.5" width="24.4" height="1.6" fill="#909090"/><rect x="-5.4" y="15.5" width="10.9" height="2.2" fill="#6e6e6e"/><rect x="12.4" y="15.5" width="26.8" height="2.2" fill="#6e6e6e"/><rect x="45.6" y="15.5" width="24.3" height="2.2" fill="#6e6e6e"/><rect x="77.9" y="15.5" width="14.3" height="1.3" fill="#b0b0b0"/><rect x="95.5" y="15.5" width="15.0" height="1.6" fill="#909090"/><rect x="114.3" y="15.5" width="9.6" height="2.2" fill="#6e6e6e"/><rect x="131.5" y="15.5" width="31.9" height="1.3" fill="#b0b0b0"/><rect x="168.8" y="15.5" width="22.3" height="1.3" fill="#b0b0b0"/><rect x="195.5" y="15.5" width="13.3" height="2.2" fill="#6e6e6e"/><rect x="214.0" y="15.5" width="27.9" height="1.3" fill="#b0b0b0"/><rect x="249.6" y="15.5" width="19.6" height="1.6" fill="#909090"/><rect x="274.3" y="15.5" width="16.4" height="2.2" fill="#6e6e6e"/><rect x="296.8" y="15.5" width="32.4" height="2.2" fill="#6e6e6e"/><rect x="-10.8" y="18.5" width="29.2" height="1.6" fill="#909090"/><rect x="23.8" y="18.5" width="31.9" height="1.6" fill="#909090"/><rect x="61.1" y="18.5" width="26.4" height="2.2" fill="#6e6e6e"/><rect x="90.7" y="18.5" width="29.6" height="2.2" fill="#6e6e6e"/><rect x="129.1" y="18.5" width="17.8" height="1.3" fill="#b0b0b0"/><rect x="154.2" y="18.5" width="8.5" height="1.6" fill="#909090"/><rect x="168.0" y="18.5" width="31.2" height="1.6" fill="#909090"/><rect x="202.7" y="18.5" width="13.5" height="1.6" fill="#909090"/><rect x="223.5" y="18.5" width="15.3" height="1.6" fill="#909090"/><rect x="246.3" y="18.5" width="22.3" height="1.6" fill="#909090"/><rect x="276.3" y="18.5" width="9.2" height="1.3" fill="#b0b0b0"/><rect x="291.3" y="18.5" width="33.3" height="1.3" fill="#b0b0b0"/><rect x="-17.3" y="21.5" width="10.8" height="1.3" fill="#b0b0b0"/><rect x="2.1" y="21.5" width="24.8" height="1.6" fill="#909090"/><rect x="33.5" y="21.5" width="28.9" height="2.2" fill="#6e6e6e"/><rect x="70.7" y="21.5" width="15.6" height="1.3" fill="#b0b0b0"/><rect x="92.4" y="21.5" width="14.5" height="2.2" fill="#6e6e6e"/><rect x="115.7" y="21.5" width="27.9" height="2.2" fill="#6e6e6e"/><rect x="152.0" y="21.5" width="19.1" height="1.3" fill="#b0b0b0"/><rect x="177.1" y="21.5" width="27.9" height="1.6" fill="#909090"/><rect x="212.6" y="21.5" width="28.5" height="1.3" fill="#b0b0b0"/><rect x="247.9" y="21.5" width="33.3" height="1.3" fill="#b0b0b0"/><rect x="288.5" y="21.5" width="23.0" height="2.2" fill="#6e6e6e"/><rect x="-14.3" y="24.5" width="15.9" height="1.6" fill="#909090"/><rect x="10.0" y="24.5" width="30.0" height="1.6" fill="#909090"/><rect x="45.8" y="24.5" width="32.5" height="1.6" fill="#909090"/><rect x="85.3" y="24.5" width="9.3" height="1.6" fill="#909090"/><rect x="103.3" y="24.5" width="27.4" height="1.3" fill="#b0b0b0"/><rect x="134.9" y="24.5" width="14.8" height="1.3" fill="#b0b0b0"/><rect x="157.1" y="24.5" width="27.4" height="1.3" fill="#b0b0b0"/><rect x="189.0" y="24.5" width="11.6" height="1.3" fill="#b0b0b0"/><rect x="207.0" y="24.5" width="26.9" height="1.6" fill="#909090"/><rect x="237.3" y="24.5" width="12.0" height="2.2" fill="#6e6e6e"/><rect x="257.5" y="24.5" width="16.1" height="1.6" fill="#909090"/><rect x="277.1" y="24.5" width="14.1" height="2.2" fill="#6e6e6e"/><rect x="298.4" y="24.5" width="12.7" height="2.2" fill="#6e6e6e"/><rect x="-8.4" y="27.5" width="21.7" height="1.3" fill="#b0b0b0"/><rect x="16.9" y="27.5" width="31.1" height="1.6" fill="#909090"/><rect x="52.8" y="27.5" width="13.2" height="2.2" fill="#6e6e6e"/><rect x="73.9" y="27.5" width="33.6" height="1.6" fill="#909090"/><rect x="110.7" y="27.5" width="14.9" height="1.3" fill="#b0b0b0"/><rect x="130.9" y="27.5" width="21.9" height="1.6" fill="#909090"/><rect x="159.8" y="27.5" width="25.5" height="2.2" fill="#6e6e6e"/><rect x="193.6" y="27.5" width="11.1" height="1.6" fill="#909090"/><rect x="212.3" y="27.5" width="14.3" height="1.6" fill="#909090"/><rect x="231.1" y="27.5" width="12.5" height="1.3" fill="#b0b0b0"/><rect x="249.7" y="27.5" width="27.0" height="1.3" fill="#b0b0b0"/><rect x="279.7" y="27.5" width="33.6" height="1.3" fill="#b0b0b0"/><rect x="-9.9" y="30.5" width="21.4" height="1.6" fill="#909090"/><rect x="17.4" y="30.5" width="16.5" height="2.2" fill="#6e6e6e"/><rect x="38.1" y="30.5" width="24.8" height="2.2" fill="#6e6e6e"/><rect x="66.7" y="30.5" width="32.1" height="1.6" fill="#909090"/><rect x="105.0" y="30.5" width="30.8" height="1.3" fill="#b0b0b0"/><rect x="144.1" y="30.5" width="33.4" height="2.2" fill="#6e6e6e"/><rect x="184.7" y="30.5" width="19.7" height="1.6" fill="#909090"/><rect x="207.5" y="30.5" width="13.6" height="1.6" fill="#909090"/><rect x="228.0" y="30.5" width="27.6" height="1.3" fill="#b0b0b0"/><rect x="258.9" y="30.5" width="25.9" height="2.2" fill="#6e6e6e"/><rect x="292.2" y="30.5" width="9.6" height="1.3" fill="#b0b0b0"/><rect x="309.3" y="30.5" width="29.7" height="1.3" fill="#b0b0b0"/><rect x="-5.2" y="33.5" width="31.7" height="1.6" fill="#909090"/><rect x="30.8" y="33.5" width="14.9" height="1.3" fill="#b0b0b0"/><rect x="49.7" y="33.5" width="23.3" height="2.2" fill="#6e6e6e"/><rect x="79.9" y="33.5" width="31.3" height="1.6" fill="#909090"/><rect x="120.1" y="33.5" width="8.8" height="1.6" fill="#909090"/><rect x="136.3" y="33.5" width="12.2" height="2.2" fill="#6e6e6e"/><rect x="154.1" y="33.5" width="8.8" height="1.6" fill="#909090"/><rect x="170.9" y="33.5" width="26.2" height="1.3" fill="#b0b0b0"/><rect x="199.7" y="33.5" width="12.5" height="1.6" fill="#909090"/><rect x="220.6" y="33.5" width="32.4" height="2.2" fill="#6e6e6e"/><rect x="258.8" y="33.5" width="29.6" height="2.2" fill="#6e6e6e"/><rect x="295.6" y="33.5" width="11.0" height="1.6" fill="#909090"/><rect x="-2.1" y="36.5" width="9.2" height="1.6" fill="#909090"/><rect x="13.4" y="36.5" width="14.8" height="1.6" fill="#909090"/><rect x="35.4" y="36.5" width="33.3" height="1.3" fill="#b0b0b0"/><rect x="71.3" y="36.5" width="31.2" height="2.2" fill="#6e6e6e"/><rect x="106.3" y="36.5" width="33.2" height="1.6" fill="#909090"/><rect x="144.5" y="36.5" width="19.9" height="2.2" fill="#6e6e6e"/><rect x="168.4" y="36.5" width="13.7" height="1.6" fill="#909090"/><rect x="189.7" y="36.5" width="33.1" height="1.3" fill="#b0b0b0"/><rect x="226.8" y="36.5" width="19.8" height="2.2" fill="#6e6e6e"/><rect x="254.7" y="36.5" width="19.2" height="1.6" fill="#909090"/><rect x="281.9" y="36.5" width="10.9" height="1.6" fill="#909090"/><rect x="299.1" y="36.5" width="25.7" height="1.6" fill="#909090"/><rect x="-5.5" y="39.5" width="15.5" height="1.6" fill="#909090"/><rect x="15.1" y="39.5" width="13.4" height="2.2" fill="#6e6e6e"/><rect x="32.0" y="39.5" width="10.7" height="1.6" fill="#909090"/><rect x="49.5" y="39.5" width="27.1" height="1.6" fill="#909090"/><rect x="83.4" y="39.5" width="33.3" height="2.2" fill="#6e6e6e"/><rect x="121.0" y="39.5" width="18.0" height="2.2" fill="#6e6e6e"/><rect x="147.6" y="39.5" width="8.3" height="1.6" fill="#909090"/><rect x="159.5" y="39.5" width="13.2" height="1.6" fill="#909090"/><rect x="181.0" y="39.5" width="23.6" height="1.3" fill="#b0b0b0"/><rect x="209.0" y="39.5" width="23.5" height="2.2" fill="#6e6e6e"/><rect x="235.3" y="39.5" width="17.1" height="2.2" fill="#6e6e6e"/><rect x="260.1" y="39.5" width="25.7" height="1.3" fill="#b0b0b0"/><rect x="294.6" y="39.5" width="28.7" height="1.3" fill="#b0b0b0"/><rect x="-9.0" y="42.5" width="30.9" height="1.6" fill="#909090"/><rect x="28.0" y="42.5" width="23.3" height="1.6" fill="#909090"/><rect x="57.5" y="42.5" width="8.9" height="2.2" fill="#6e6e6e"/><rect x="74.6" y="42.5" width="20.5" height="1.6" fill="#909090"/><rect x="99.1" y="42.5" width="8.3" height="1.3" fill="#b0b0b0"/><rect x="112.0" y="42.5" width="27.6" height="1.6" fill="#909090"/><rect x="146.6" y="42.5" width="29.8" height="1.3" fill="#b0b0b0"/><rect x="183.6" y="42.5" width="17.5" height="1.3" fill="#b0b0b0"/><rect x="208.4" y="42.5" width="15.2" height="1.6" fill="#909090"/><rect x="231.4" y="42.5" width="10.0" height="2.2" fill="#6e6e6e"/><rect x="245.1" y="42.5" width="33.7" height="2.2" fill="#6e6e6e"/><rect x="286.8" y="42.5" width="19.9" height="1.6" fill="#909090"/><rect x="-8.2" y="45.5" width="31.9" height="1.3" fill="#b0b0b0"/><rect x="31.2" y="45.5" width="19.9" height="2.2" fill="#6e6e6e"/><rect x="59.4" y="45.5" width="30.9" height="2.2" fill="#6e6e6e"/><rect x="93.7" y="45.5" width="30.6" height="2.2" fill="#6e6e6e"/><rect x="131.4" y="45.5" width="31.2" height="1.3" fill="#b0b0b0"/><rect x="167.2" y="45.5" width="28.0" height="1.3" fill="#b0b0b0"/><rect x="199.6" y="45.5" width="28.5" height="1.6" fill="#909090"/><rect x="234.4" y="45.5" width="23.4" height="1.3" fill="#b0b0b0"/><rect x="266.6" y="45.5" width="15.3" height="1.6" fill="#909090"/><rect x="288.8" y="45.5" width="17.9" height="1.3" fill="#b0b0b0"/><rect x="-5.9" y="48.5" width="10.8" height="1.3" fill="#b0b0b0"/><rect x="12.9" y="48.5" width="11.9" height="1.3" fill="#b0b0b0"/><rect x="29.6" y="48.5" width="13.0" height="1.6" fill="#909090"/><rect x="48.4" y="48.5" width="25.8" height="2.2" fill="#6e6e6e"/><rect x="79.4" y="48.5" width="24.4" height="2.2" fill="#6e6e6e"/><rect x="111.9" y="48.5" width="15.3" height="1.6" fill="#909090"/><rect x="130.7" y="48.5" width="32.6" height="2.2" fill="#6e6e6e"/><rect x="170.3" y="48.5" width="32.4" height="2.2" fill="#6e6e6e"/><rect x="207.9" y="48.5" width="16.5" height="1.6" fill="#909090"/><rect x="228.7" y="48.5" width="18.5" height="2.2" fill="#6e6e6e"/><rect x="251.0" y="48.5" width="31.9" height="1.3" fill="#b0b0b0"/><rect x="290.4" y="48.5" width="25.1" height="2.2" fill="#6e6e6e"/><rect x="-7.4" y="51.5" width="22.3" height="2.2" fill="#6e6e6e"/><rect x="20.0" y="51.5" width="18.4" height="2.2" fill="#6e6e6e"/><rect x="41.2" y="51.5" width="19.1" height="1.6" fill="#909090"/><rect x="63.6" y="51.5" width="14.7" height="1.3" fill="#b0b0b0"/><rect x="84.6" y="51.5" width="26.6" height="1.6" fill="#909090"/><rect x="120.1" y="51.5" width="33.7" height="1.3" fill="#b0b0b0"/><rect x="161.4" y="51.5" width="9.6" height="1.3" fill="#b0b0b0"/><rect x="178.1" y="51.5" width="11.4" height="1.6" fill="#909090"/><rect x="196.6" y="51.5" width="11.0" height="1.6" fill="#909090"/><rect x="210.9" y="51.5" width="17.9" height="1.3" fill="#b0b0b0"/><rect x="235.8" y="51.5" width="30.9" height="1.6" fill="#909090"/><rect x="270.2" y="51.5" width="16.4" height="2.2" fill="#6e6e6e"/><rect x="293.9" y="51.5" width="31.4" height="1.3" fill="#b0b0b0"/><rect x="-6.1" y="54.5" width="22.7" height="1.3" fill="#b0b0b0"/><rect x="20.5" y="54.5" width="23.2" height="1.6" fill="#909090"/><rect x="49.1" y="54.5" width="17.0" height="1.3" fill="#b0b0b0"/><rect x="72.0" y="54.5" width="27.9" height="2.2" fill="#6e6e6e"/><rect x="104.6" y="54.5" width="24.3" height="2.2" fill="#6e6e6e"/><rect x="137.5" y="54.5" width="30.2" height="1.6" fill="#909090"/><rect x="174.1" y="54.5" width="29.4" height="1.6" fill="#909090"/><rect x="209.6" y="54.5" width="19.8" height="1.6" fill="#909090"/><rect x="236.6" y="54.5" width="12.5" height="2.2" fill="#6e6e6e"/><rect x="252.3" y="54.5" width="16.8" height="1.6" fill="#909090"/><rect x="274.4" y="54.5" width="8.2" height="1.6" fill="#909090"/><rect x="288.1" y="54.5" width="32.0" height="2.2" fill="#6e6e6e"/><rect x="-2.1" y="57.5" width="20.3" height="2.2" fill="#6e6e6e"/><rect x="23.8" y="57.5" width="12.4" height="1.6" fill="#909090"/><rect x="39.6" y="57.5" width="34.0" height="1.6" fill="#909090"/><rect x="79.4" y="57.5" width="15.1" height="2.2" fill="#6e6e6e"/><rect x="100.6" y="57.5" width="15.8" height="1.3" fill="#b0b0b0"/><rect x="124.7" y="57.5" width="15.4" height="1.3" fill="#b0b0b0"/><rect x="148.4" y="57.5" width="30.7" height="1.6" fill="#909090"/><rect x="186.8" y="57.5" width="30.2" height="2.2" fill="#6e6e6e"/><rect x="222.3" y="57.5" width="17.7" height="1.3" fill="#b0b0b0"/><rect x="248.1" y="57.5" width="33.4" height="1.3" fill="#b0b0b0"/><rect x="289.5" y="57.5" width="32.2" height="1.3" fill="#b0b0b0"/><rect x="-13.4" y="60.5" width="20.9" height="2.2" fill="#6e6e6e"/><rect x="11.1" y="60.5" width="20.9" height="1.6" fill="#909090"/><rect x="35.8" y="60.5" width="18.4" height="1.6" fill="#909090"/><rect x="59.4" y="60.5" width="16.2" height="1.6" fill="#909090"/><rect x="83.4" y="60.5" width="16.9" height="1.6" fill="#909090"/><rect x="107.7" y="60.5" width="32.4" height="1.3" fill="#b0b0b0"/><rect x="148.3" y="60.5" width="13.4" height="1.6" fill="#909090"/><rect x="167.4" y="60.5" width="9.3" height="1.3" fill="#b0b0b0"/><rect x="181.6" y="60.5" width="27.0" height="1.3" fill="#b0b0b0"/><rect x="214.5" y="60.5" width="19.2" height="1.3" fill="#b0b0b0"/><rect x="238.6" y="60.5" width="14.5" height="1.6" fill="#909090"/><rect x="258.6" y="60.5" width="33.0" height="1.6" fill="#909090"/><rect x="295.5" y="60.5" width="18.7" height="1.3" fill="#b0b0b0"/><rect x="-7.4" y="63.5" width="11.0" height="1.3" fill="#b0b0b0"/><rect x="10.3" y="63.5" width="20.5" height="1.6" fill="#909090"/><rect x="35.8" y="63.5" width="13.0" height="1.3" fill="#b0b0b0"/><rect x="52.0" y="63.5" width="16.2" height="2.2" fill="#6e6e6e"/><rect x="75.1" y="63.5" width="16.8" height="1.3" fill="#b0b0b0"/><rect x="95.7" y="63.5" width="21.7" height="1.6" fill="#909090"/><rect x="120.3" y="63.5" width="12.1" height="1.6" fill="#909090"/><rect x="137.4" y="63.5" width="21.4" height="1.3" fill="#b0b0b0"/><rect x="163.4" y="63.5" width="11.9" height="2.2" fill="#6e6e6e"/><rect x="179.1" y="63.5" width="18.8" height="1.6" fill="#909090"/><rect x="202.2" y="63.5" width="11.0" height="1.3" fill="#b0b0b0"/><rect x="217.6" y="63.5" width="13.4" height="2.2" fill="#6e6e6e"/><rect x="235.8" y="63.5" width="12.3" height="1.6" fill="#909090"/><rect x="250.8" y="63.5" width="29.9" height="1.6" fill="#909090"/><rect x="284.8" y="63.5" width="16.6" height="1.6" fill="#909090"/><rect x="304.9" y="63.5" width="17.5" height="1.6" fill="#909090"/><rect x="-19.3" y="66.5" width="12.7" height="2.2" fill="#6e6e6e"/><rect x="-2.2" y="66.5" width="30.8" height="1.6" fill="#909090"/><rect x="35.9" y="66.5" width="14.4" height="1.6" fill="#909090"/><rect x="53.7" y="66.5" width="10.5" height="1.6" fill="#909090"/><rect x="68.1" y="66.5" width="16.9" height="1.6" fill="#909090"/><rect x="92.5" y="66.5" width="11.3" height="1.6" fill="#909090"/><rect x="108.6" y="66.5" width="12.2" height="2.2" fill="#6e6e6e"/><rect x="126.2" y="66.5" width="10.6" height="1.6" fill="#909090"/><rect x="144.6" y="66.5" width="27.1" height="1.3" fill="#b0b0b0"/><rect x="176.3" y="66.5" width="12.2" height="1.6" fill="#909090"/><rect x="196.2" y="66.5" width="23.7" height="2.2" fill="#6e6e6e"/><rect x="222.5" y="66.5" width="31.6" height="2.2" fill="#6e6e6e"/><rect x="259.4" y="66.5" width="28.6" height="1.6" fill="#909090"/><rect x="290.9" y="66.5" width="33.2" height="2.2" fill="#6e6e6e"/><rect x="-15.4" y="69.5" width="21.6" height="1.3" fill="#b0b0b0"/><rect x="12.7" y="69.5" width="9.2" height="2.2" fill="#6e6e6e"/><rect x="29.3" y="69.5" width="22.5" height="1.3" fill="#b0b0b0"/><rect x="55.6" y="69.5" width="19.9" height="2.2" fill="#6e6e6e"/><rect x="79.7" y="69.5" width="9.6" height="1.6" fill="#909090"/><rect x="96.1" y="69.5" width="16.7" height="2.2" fill="#6e6e6e"/><rect x="119.4" y="69.5" width="32.1" height="1.3" fill="#b0b0b0"/><rect x="154.2" y="69.5" width="25.7" height="1.6" fill="#909090"/><rect x="184.5" y="69.5" width="33.7" height="1.3" fill="#b0b0b0"/><rect x="222.1" y="69.5" width="28.9" height="1.3" fill="#b0b0b0"/><rect x="255.1" y="69.5" width="25.6" height="2.2" fill="#6e6e6e"/><rect x="285.0" y="69.5" width="20.2" height="1.6" fill="#909090"/><rect x="-6.0" y="72.5" width="27.6" height="2.2" fill="#6e6e6e"/><rect x="30.3" y="72.5" width="29.1" height="2.2" fill="#6e6e6e"/><rect x="64.9" y="72.5" width="21.5" height="2.2" fill="#6e6e6e"/><rect x="91.6" y="72.5" width="20.6" height="1.3" fill="#b0b0b0"/><rect x="120.2" y="72.5" width="27.8" height="2.2" fill="#6e6e6e"/><rect x="154.0" y="72.5" width="14.5" height="1.3" fill="#b0b0b0"/><rect x="175.7" y="72.5" width="24.1" height="1.6" fill="#909090"/><rect x="208.0" y="72.5" width="8.9" height="1.3" fill="#b0b0b0"/><rect x="225.4" y="72.5" width="22.4" height="2.2" fill="#6e6e6e"/><rect x="253.2" y="72.5" width="25.1" height="1.3" fill="#b0b0b0"/><rect x="286.9" y="72.5" width="16.3" height="1.6" fill="#909090"/><rect x="306.6" y="72.5" width="11.3" height="1.3" fill="#b0b0b0"/><rect x="-8.1" y="75.5" width="20.5" height="1.6" fill="#909090"/><rect x="21.0" y="75.5" width="29.5" height="1.6" fill="#909090"/><rect x="55.4" y="75.5" width="31.0" height="1.6" fill="#909090"/><rect x="91.9" y="75.5" width="13.8" height="2.2" fill="#6e6e6e"/><rect x="113.5" y="75.5" width="25.8" height="1.6" fill="#909090"/><rect x="144.3" y="75.5" width="19.3" height="1.6" fill="#909090"/><rect x="171.0" y="75.5" width="17.6" height="1.6" fill="#909090"/><rect x="191.9" y="75.5" width="26.4" height="2.2" fill="#6e6e6e"/><rect x="225.1" y="75.5" width="13.4" height="2.2" fill="#6e6e6e"/><rect x="246.7" y="75.5" width="24.2" height="2.2" fill="#6e6e6e"/><rect x="277.9" y="75.5" width="17.2" height="1.6" fill="#909090"/><rect x="300.4" y="75.5" width="23.7" height="2.2" fill="#6e6e6e"/><rect x="-19.5" y="78.5" width="8.1" height="1.6" fill="#909090"/><rect x="-4.1" y="78.5" width="24.1" height="1.6" fill="#909090"/><rect x="28.7" y="78.5" width="14.8" height="1.6" fill="#909090"/><rect x="47.0" y="78.5" width="33.7" height="2.2" fill="#6e6e6e"/><rect x="85.4" y="78.5" width="9.4" height="1.6" fill="#909090"/><rect x="100.9" y="78.5" width="18.0" height="1.6" fill="#909090"/><rect x="124.9" y="78.5" width="10.6" height="1.6" fill="#909090"/><rect x="143.6" y="78.5" width="24.9" height="2.2" fill="#6e6e6e"/><rect x="172.6" y="78.5" width="13.9" height="1.3" fill="#b0b0b0"/><rect x="193.8" y="78.5" width="30.2" height="1.3" fill="#b0b0b0"/><rect x="226.5" y="78.5" width="25.0" height="1.6" fill="#909090"/><rect x="258.3" y="78.5" width="20.9" height="1.3" fill="#b0b0b0"/><rect x="281.7" y="78.5" width="27.6" height="2.2" fill="#6e6e6e"/><rect x="-11.5" y="81.5" width="30.6" height="1.3" fill="#b0b0b0"/><rect x="25.7" y="81.5" width="30.2" height="1.3" fill="#b0b0b0"/><rect x="61.3" y="81.5" width="17.0" height="1.3" fill="#b0b0b0"/><rect x="82.6" y="81.5" width="25.6" height="1.3" fill="#b0b0b0"/><rect x="111.1" y="81.5" width="18.6" height="2.2" fill="#6e6e6e"/><rect x="133.8" y="81.5" width="16.9" height="1.3" fill="#b0b0b0"/><rect x="153.6" y="81.5" width="21.4" height="2.2" fill="#6e6e6e"/><rect x="181.1" y="81.5" width="29.9" height="2.2" fill="#6e6e6e"/><rect x="215.7" y="81.5" width="17.2" height="2.2" fill="#6e6e6e"/><rect x="240.9" y="81.5" width="11.3" height="1.6" fill="#909090"/><rect x="258.9" y="81.5" width="14.4" height="1.6" fill="#909090"/><rect x="277.2" y="81.5" width="26.1" height="1.6" fill="#909090"/><rect x="308.9" y="81.5" width="12.7" height="1.3" fill="#b0b0b0"/><rect x="-5.4" y="84.5" width="10.4" height="2.2" fill="#6e6e6e"/><rect x="13.5" y="84.5" width="12.0" height="1.6" fill="#909090"/><rect x="32.4" y="84.5" width="18.3" height="1.6" fill="#909090"/><rect x="56.2" y="84.5" width="25.0" height="1.3" fill="#b0b0b0"/><rect x="87.7" y="84.5" width="9.0" height="2.2" fill="#6e6e6e"/><rect x="101.1" y="84.5" width="22.3" height="2.2" fill="#6e6e6e"/><rect x="131.5" y="84.5" width="15.0" height="2.2" fill="#6e6e6e"/><rect x="153.6" y="84.5" width="13.2" height="2.2" fill="#6e6e6e"/><rect x="173.3" y="84.5" width="29.5" height="2.2" fill="#6e6e6e"/><rect x="208.9" y="84.5" width="13.3" height="2.2" fill="#6e6e6e"/><rect x="230.5" y="84.5" width="23.1" height="2.2" fill="#6e6e6e"/><rect x="258.4" y="84.5" width="29.8" height="1.6" fill="#909090"/><rect x="294.5" y="84.5" width="32.8" height="1.6" fill="#909090"/><rect x="-15.7" y="87.5" width="30.6" height="1.3" fill="#b0b0b0"/><rect x="22.2" y="87.5" width="26.9" height="2.2" fill="#6e6e6e"/><rect x="53.9" y="87.5" width="29.4" height="2.2" fill="#6e6e6e"/><rect x="88.3" y="87.5" width="23.2" height="1.6" fill="#909090"/><rect x="118.6" y="87.5" width="14.5" height="2.2" fill="#6e6e6e"/><rect x="137.0" y="87.5" width="28.1" height="1.6" fill="#909090"/><rect x="170.8" y="87.5" width="17.2" height="1.3" fill="#b0b0b0"/><rect x="193.8" y="87.5" width="27.1" height="2.2" fill="#6e6e6e"/><rect x="228.4" y="87.5" width="24.8" height="1.3" fill="#b0b0b0"/><rect x="261.6" y="87.5" width="15.1" height="1.3" fill="#b0b0b0"/><rect x="279.6" y="87.5" width="25.6" height="2.2" fill="#6e6e6e"/><rect x="-4.0" y="90.5" width="15.0" height="1.3" fill="#b0b0b0"/><rect x="16.5" y="90.5" width="8.5" height="2.2" fill="#6e6e6e"/><rect x="28.1" y="90.5" width="31.7" height="1.6" fill="#909090"/><rect x="63.7" y="90.5" width="11.3" height="1.6" fill="#909090"/><rect x="81.1" y="90.5" width="19.6" height="1.6" fill="#909090"/><rect x="104.5" y="90.5" width="29.2" height="2.2" fill="#6e6e6e"/><rect x="138.1" y="90.5" width="17.3" height="2.2" fill="#6e6e6e"/><rect x="164.2" y="90.5" width="12.1" height="2.2" fill="#6e6e6e"/><rect x="182.9" y="90.5" width="9.7" height="1.6" fill="#909090"/><rect x="199.4" y="90.5" width="31.2" height="1.6" fill="#909090"/><rect x="239.3" y="90.5" width="30.0" height="1.3" fill="#b0b0b0"/><rect x="277.7" y="90.5" width="27.5" height="1.3" fill="#b0b0b0"/><rect x="-3.6" y="93.5" width="15.7" height="1.3" fill="#b0b0b0"/><rect x="15.4" y="93.5" width="25.1" height="2.2" fill="#6e6e6e"/><rect x="47.6" y="93.5" width="32.8" height="1.3" fill="#b0b0b0"/><rect x="87.5" y="93.5" width="26.6" height="1.3" fill="#b0b0b0"/><rect x="118.2" y="93.5" width="19.5" height="1.6" fill="#909090"/><rect x="141.0" y="93.5" width="26.5" height="1.3" fill="#b0b0b0"/><rect x="174.0" y="93.5" width="17.8" height="1.3" fill="#b0b0b0"/><rect x="194.6" y="93.5" width="24.7" height="1.3" fill="#b0b0b0"/><rect x="223.4" y="93.5" width="14.6" height="1.6" fill="#909090"/><rect x="244.2" y="93.5" width="16.8" height="2.2" fill="#6e6e6e"/><rect x="263.8" y="93.5" width="18.3" height="1.3" fill="#b0b0b0"/><rect x="287.8" y="93.5" width="11.4" height="1.6" fill="#909090"/><rect x="302.7" y="93.5" width="14.9" height="1.3" fill="#b0b0b0"/></pattern><pattern id="brick" patternUnits="userSpaceOnUse" x="436.7" y="94.3" width="18.6" height="9.32"><rect width="18.6" height="9.32" fill="#fff"/><path d="M0,0.5H18.6M0,5.16H18.6M4.65,0.5V5.16M13.95,0.5V5.16M0,5.16V9.32M9.3,5.16V9.32" stroke="#5a5a5a" stroke-width="0.85" fill="none"/></pattern>
<linearGradient id="water" x1="0" y1="0" x2="0" y2="1"><stop offset="0" stop-color="#8aa7c6"/><stop offset="1" stop-color="#c3d2e3"/></linearGradient>
</defs>
<filter id="soft" x="0" y="0" width="1" height="1"><feConvolveMatrix order="3" kernelMatrix="1 2 1 2 6 2 1 2 1" divisor="18" edgeMode="duplicate" preserveAlpha="true"/></filter>
<rect x="74" y="285.8" width="546" height="180" fill="url(#soil)" filter="url(#soft)"/>
<clipPath id="hb"><rect x="74" y="274" width="110.6" height="12"/><rect x="511" y="274" width="109" height="12"/></clipPath>
<g clip-path="url(#hb)"><path d="M64.0,286.0L75.0,274.2M68.6,286.0L79.6,274.2M73.2,286.0L84.2,274.2M77.8,286.0L88.8,274.2" stroke="#5e5e5e" stroke-width="1" fill="none"/><path d="M87.4,275.2L87.4,286.0M91.0,275.2L91.0,286.0M94.5,275.2L94.5,286.0M98.0,275.2L98.0,286.0M101.6,275.2L101.6,286.0" stroke="#8a8a8a" stroke-width="1" fill="none"/><path d="M104.0,278.0L115.0,286.0M107.5,278.0L118.5,286.0" stroke="#8e8e8e" stroke-width="1" fill="none"/><path d="M117.0,279.0L128.0,286.0M120.6,279.0L131.6,286.0M124.2,279.0L135.2,286.0" stroke="#858585" stroke-width="1" fill="none"/><path d="M128.0,286.0L139.0,274.2M133.0,286.0L144.0,274.2M138.0,286.0L149.0,274.2M143.0,286.0L154.0,274.2M148.0,286.0L159.0,274.2M153.0,286.0L164.0,274.2M158.0,286.0L169.0,274.2" stroke="#5e5e5e" stroke-width="1" fill="none"/><path d="M164.8,275.2L164.8,286.0M168.2,275.2L168.2,286.0M171.7,275.2L171.7,286.0M175.1,275.2L175.1,286.0M178.6,275.2L178.6,286.0" stroke="#8a8a8a" stroke-width="1" fill="none"/><path d="M511.0,277.0L522.0,286.0M514.6,277.0L525.6,286.0M518.2,277.0L529.2,286.0" stroke="#777" stroke-width="1" fill="none"/><path d="M522.0,286.0L533.0,274.2M527.0,286.0L538.0,274.2M532.0,286.0L543.0,274.2M537.0,286.0L548.0,274.2M542.0,286.0L553.0,274.2" stroke="#5e5e5e" stroke-width="1" fill="none"/><path d="M554.7,275.2L554.7,286.0M558.3,275.2L558.3,286.0M561.9,275.2L561.9,286.0M565.5,275.2L565.5,286.0M569.1,275.2L569.1,286.0" stroke="#8a8a8a" stroke-width="1" fill="none"/><path d="M572.0,276.0L583.0,286.0M575.5,276.0L586.5,286.0M579.0,276.0L590.0,286.0M582.5,276.0L593.5,286.0" stroke="#666" stroke-width="1" fill="none"/><path d="M585.0,276.0L596.0,286.0M588.6,276.0L599.6,286.0M592.2,276.0L603.2,286.0M595.8,276.0L606.8,286.0" stroke="#777" stroke-width="1" fill="none"/><path d="M603.0,286.0L614.0,274.2M607.6,286.0L618.6,274.2M612.2,286.0L623.2,274.2M616.8,286.0L627.8,274.2" stroke="#5e5e5e" stroke-width="1" fill="none"/></g>
<path d="M74,460 C110,456 128,455.2 142,455.5 C190,456 280,461 340,459.5 C370,458.5 390,456.3 410,456.5 C450,457 500,463 540,462.5 C570,462 600,461 620,461 L620,494 L74,494 Z" fill="url(#water)"/>
<path d="M74,460 C110,456 128,455.2 142,455.5 C190,456 280,461 340,459.5 C370,458.5 390,456.3 410,456.5 C450,457 500,463 540,462.5 C570,462 600,461 620,461" fill="none" stroke="#7f8a94" stroke-width="0.8"/>
<rect x="436.7" y="94.3" width="29.3" height="60" fill="url(#brick)" stroke="#444" stroke-width="1"/>
<rect x="195.3" y="172.5" width="305.4" height="139.2" fill="#ddd4d5" stroke="#333" stroke-width="1.1"/>
<polygon points="195,172.5 347.2,78.5 501.5,172.5" fill="url(#roof)" stroke="#333" stroke-width="1"/>
<line x1="195" y1="172.4" x2="501.5" y2="172.4" stroke="#3a3a3a" stroke-width="1.3"/>
<rect x="448.6" y="173" width="9.4" height="93" fill="#b3dde1"/>
<line x1="327.4" y1="270.2" x2="221.9" y2="304.6" stroke="#333" stroke-width="1.0"/><polygon points="215.7,306.6 221.0,301.7 222.8,307.4" fill="#333"/>
<line x1="374.4" y1="269.6" x2="488.6" y2="306.1" stroke="#333" stroke-width="1.0"/><polygon points="494.8,308.1 487.7,309.0 489.5,303.3" fill="#333"/>
<rect x="420.3" y="265.8" width="45.4" height="46" fill="#969696" stroke="#808080" stroke-width="0.6"/>
<rect x="436.6" y="267" width="4.4" height="44" fill="#fff" stroke="#111" stroke-width="1.5"/>
<rect x="445.1" y="266.5" width="4.7" height="44.5" fill="#111"/>
<line x1="447.45" y1="268" x2="447.45" y2="310" stroke="#7cc8d0" stroke-width="0.8" stroke-dasharray="1.5,1"/>
<rect x="413.4" y="288" width="11" height="5.6" fill="#8e8e8e" stroke="#7a7a7a" stroke-width="0.5"/>
<circle cx="425.3" cy="296.8" r="8.3" fill="#8c8c8c" stroke="#7a7a7a" stroke-width="0.7"/>
<polygon points="184.6,266.4 195,266.4 195,331 240.8,331 240.8,340.5 174.6,340.5 174.6,331 184.6,331" fill="#b79e7c" stroke="#6e604f" stroke-width="0.9"/>
<polygon points="501.7,266.2 511,266.2 511,331 520.3,331 520.3,340.6 458.2,340.6 458.2,331 501.7,331" fill="#b79e7c" stroke="#6e604f" stroke-width="0.9"/>
<rect x="216.5" y="311.7" width="270.9" height="9.3" fill="#b79e7c" stroke="#6e604f" stroke-width="0.9"/>
<path d="M98.3,285.5 C99.1,288.4 100.5,296.5 102.9,302.9 C105.4,309.3 108.8,317.0 113.0,324.0 C117.2,331.0 122.2,338.5 128.0,345.0 C133.8,351.5 140.2,357.8 148.0,363.0 C155.8,368.2 165.5,372.4 175.0,376.0 C184.5,379.6 194.2,382.2 205.0,384.5 C215.8,386.8 224.2,388.1 240.0,389.7 C255.8,391.3 281.7,393.3 300.0,394.2 C318.3,395.1 334.5,395.1 350.0,395.0 C365.5,394.9 378.0,394.5 393.0,393.4 C408.0,392.3 428.4,390.0 440.0,388.6 C451.6,387.2 451.5,387.9 462.9,385.0 C474.3,382.1 494.5,377.5 508.6,371.4 C522.7,365.3 537.3,356.2 547.4,348.6 C557.5,341.0 563.7,333.3 569.0,325.7 C574.3,318.1 576.9,309.6 579.4,302.9 C581.9,296.2 583.1,288.4 583.9,285.5" fill="none" stroke="#2fa84f" stroke-width="2"/>
<path d="M109.7,285.5 C109.8,288.4 108.7,296.2 110.4,302.9 C112.1,309.6 116.1,320.0 120.0,325.7 C123.9,331.4 128.9,334.1 133.7,337.1 C138.5,340.2 143.1,342.1 148.6,344.0 C154.1,345.9 162.3,347.7 166.9,348.6 C171.5,349.6 174.5,349.5 176.0,349.7" fill="none" stroke="#1e1e1e" stroke-width="2.2"/>
<polygon points="185.1,350.9 173.1,355.7 174.3,343.7" fill="#1e1e1e"/>
<path d="M571.3,285.5 C571.1,288.4 572.2,296.2 570.3,302.9 C568.4,309.6 565.0,319.6 560.0,325.7 C555.0,331.8 547.6,336.0 540.6,339.4 C533.6,342.8 525.0,344.7 517.7,346.3 C510.4,347.9 500.4,348.4 497.0,348.8" fill="none" stroke="#1e1e1e" stroke-width="2.2"/>
<polygon points="487.1,349.6 498.0,342.8 498.6,355.2" fill="#1e1e1e"/>
<line x1="142.9" y1="313.1" x2="135.1" y2="326.2" stroke="#222" stroke-width="1.1"/><polygon points="132.1,331.4 132.7,324.8 137.6,327.7" fill="#222"/>
<line x1="123.4" y1="377.1" x2="138.0" y2="362.0" stroke="#222" stroke-width="1.1"/><polygon points="142.2,357.7 140.0,364.0 136.0,360.1" fill="#222"/>
<line x1="102.0" y1="216.7" x2="187.0" y2="216.7" stroke="#333" stroke-width="1.4"/><polygon points="193.0,216.7 187.0,219.9 187.0,213.5" fill="#333"/>
<line x1="501.0" y1="201.7" x2="595.0" y2="201.7" stroke="#333" stroke-width="1.4"/><polygon points="601.0,201.7 595.0,204.9 595.0,198.5" fill="#333"/>
<line x1="157.3" y1="241.2" x2="209.1" y2="241.2" stroke="#333" stroke-width="1.4"/><polygon points="215.1,241.2 209.1,244.4 209.1,238.0" fill="#333"/>
<line x1="215.1" y1="253.2" x2="163.3" y2="253.2" stroke="#333" stroke-width="1.4"/><polygon points="157.3,253.2 163.3,250.0 163.3,256.4" fill="#333"/>
<path d="M445.1,107.8 L445.1,99 A26.9,24.4 0 0 1 472,74.6 L472,70.2 L484,80.1 L472,91.5 L472,85.6 L467.5,85.6 A10.3,10 0 0 0 457.2,95.6 L457.2,107.8 Z" fill="#55585c"/>
<path d="M197,314.5 L197,300.5 A26,19.5 0 0 1 223,281 L223,276.3 L233.6,288.3 L223,300.9 L223,294.6 L214,294.6 A5.7,5.7 0 0 0 208.3,300.3 L208.3,312.2 L215.7,311.7 L201.4,324.3 L192.3,314 Z" fill="#55585c"/>
<path d="M253.35,336.9 C272,345 275,358 247.6,365.7" fill="none" stroke="#55585c" stroke-width="7.5"/>
<polygon points="244.3,332.1 256.2,331.7 250.5,342.1" fill="#55585c"/>
<polygon points="238.6,368.8 246.2,360.2 249,371.2" fill="#55585c"/>
<path d="M442.35,340 C422,350 424,361 448.3,368.35" fill="none" stroke="#55585c" stroke-width="7.5"/>
<polygon points="451.9,335.3 439.5,334.5 445.2,345.5" fill="#55585c"/>
<polygon points="457.6,371.7 449,363.1 447.6,374.5" fill="#55585c"/>
<polygon points="350,363.6 357.6,393 342.4,393" fill="#55585c"/>
<rect x="346" y="392.5" width="8" height="29.5" fill="#55585c"/>
<rect x="346" y="422" width="8" height="38" fill="#f2e7d4"/>
<rect x="346" y="426.9" width="8" height="11.7" fill="#55585c"/>
<rect x="346" y="442.9" width="8" height="7.1" fill="#55585c"/>
<rect x="346" y="454.8" width="8" height="5.7" fill="#55585c"/>
<polygon points="484.5,451.5 495,451.5 489.7,458" fill="none" stroke="#2a6db3" stroke-width="1.6"/>
<path d="M489,458.5 C493,461.5 492,464.5 488.5,467.5 C485,470.5 488,473.5 492,476" fill="none" stroke="#2a6db3" stroke-width="1.2"/>
<path d="M490.8,458.5 C494.8,461.5 493.8,464.5 490.3,467.5 C486.8,470.5 489.8,473.5 493.8,476" fill="none" stroke="#2a6db3" stroke-width="1.2"/>
<rect x="73.4" y="59" width="546.6" height="435" fill="none" stroke="#1a1a1a" stroke-width="1.8"/>
<text x="349.5" y="33" text-anchor="middle" font-family="Liberation Sans" font-weight="bold" font-size="23.3" fill="#111">VAPOR INTRUSION</text>
<text x="505.5" y="72.6" text-anchor="middle" font-family="Liberation Sans" font-size="8.7" fill="#333" stroke="#333" stroke-width="0.12" >STACK</text>
<text x="505.4" y="83.0" text-anchor="middle" font-family="Liberation Sans" font-size="8.7" fill="#333" stroke="#333" stroke-width="0.12" >EFFECTS</text>
<text x="148.7" y="203.0" text-anchor="middle" font-family="Liberation Sans" font-size="8.7" fill="#333" stroke="#333" stroke-width="0.12" >WIND</text>
<text x="148.5" y="213.3" text-anchor="middle" font-family="Liberation Sans" font-size="8.7" fill="#333" stroke="#333" stroke-width="0.12" >EFFECTS</text>
<text x="550.7" y="190.0" text-anchor="middle" font-family="Liberation Sans" font-size="8.7" fill="#333" stroke="#333" stroke-width="0.12" >WIND</text>
<text x="550.7" y="199.5" text-anchor="middle" font-family="Liberation Sans" font-size="8.7" fill="#333" stroke="#333" stroke-width="0.12" >EFFECTS</text>
<text x="345.2" y="194.3" text-anchor="middle" font-family="Liberation Sans" font-size="8.7" fill="#333" stroke="#333" stroke-width="0.12" >ENCLOSED SPACE</text>
<text x="221.3" y="244.4" text-anchor="start" font-family="Liberation Sans" font-size="8.7" fill="#333" stroke="#333" stroke-width="0.12" >OUTDOOR/INDOOR</text>
<text x="221.3" y="254.7" text-anchor="start" font-family="Liberation Sans" font-size="8.7" fill="#333" stroke="#333" stroke-width="0.12" >AIR EXCHANGE</text>
<text x="350.7" y="272.4" text-anchor="middle" font-family="Liberation Sans" font-size="8.7" fill="#333" stroke="#333" stroke-width="0.12" >CRACKS</text>
<text x="147.1" y="297.1" text-anchor="middle" font-family="Liberation Sans" font-size="8.7" fill="#333" stroke="#333" stroke-width="0.12" >AIR</text>
<text x="148.5" y="307.9" text-anchor="middle" font-family="Liberation Sans" font-size="8.7" fill="#333" stroke="#333" stroke-width="0.12" >STREAMLINES</text>
<text x="202.8" y="367.6" text-anchor="middle" font-family="Liberation Sans" font-size="8.7" fill="#333" stroke="#333" stroke-width="0.12" >SOIL GAS FLUX</text>
<text x="124.5" y="389.3" text-anchor="middle" font-family="Liberation Sans" font-size="9.6" fill="#262626" stroke="#262626" stroke-width="0.3">BUILDING ZONE</text>
<text x="124.9" y="398.9" text-anchor="middle" font-family="Liberation Sans" font-size="9.6" fill="#262626" stroke="#262626" stroke-width="0.3">OF INFLUENCE</text>
<text x="255" y="419.9" font-family="Liberation Sans" font-weight="bold" font-size="12" fill="#1a1a1a">Soil</text>
<text x="255" y="433.6" font-family="Liberation Sans" font-weight="bold" font-size="12" fill="#1a1a1a">Contamination</text>
<text transform="translate(372.4,451.6) rotate(-90)" x="0" y="0" font-family="Liberation Sans" font-size="8.7" fill="#333" stroke="#333" stroke-width="0.12">DIFFUSION</text>
<text x="358.3" y="480.4" text-anchor="middle" font-family="Liberation Sans" font-weight="bold" font-size="10.9" fill="#262626">GROUNDWATER CONTAMINATION</text>
</svg></div>
</body></html>
